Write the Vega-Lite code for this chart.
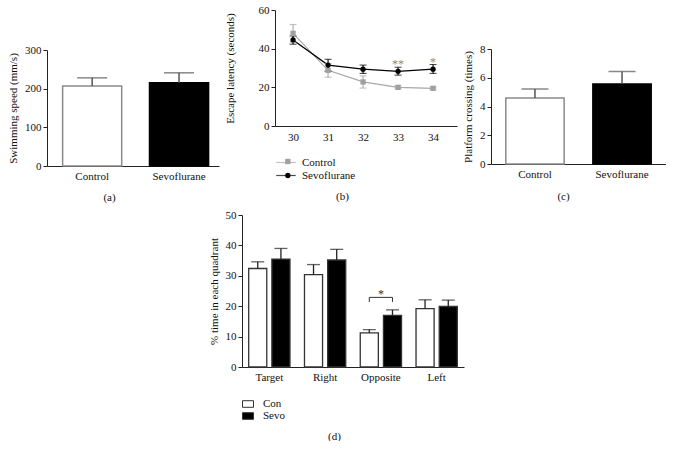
{
  "$schema": "https://vega.github.io/schema/vega-lite/v6.json",
  "padding": {"left": 7, "top": 4, "right": 0, "bottom": 0},
  "background": "white",
  "config": {
    "font": "Liberation Serif",
    "view": {"stroke": null},
    "axis": {
      "grid": false, "labelFont": "Liberation Serif", "titleFont": "Liberation Serif",
      "labelFontSize": 11, "titleFontSize": 11, "titleFontWeight": "normal",
      "domainColor": "#222", "tickColor": "#222", "labelColor": "#111", "titleColor": "#111",
      "domainWidth": 1, "tickWidth": 1, "labelPadding": 2
    },
    "legend": {"labelFont": "Liberation Serif", "labelFontSize": 11, "labelColor": "#111"},
    "text": {"font": "Liberation Serif"}
  },
  "columns": 1,
  "spacing": 7,
  "align": "none",
  "resolve": {
    "scale": {"fill": "independent", "stroke": "independent", "color": "independent", "shape": "independent", "xOffset": "independent"},
    "legend": {"fill": "independent", "stroke": "independent", "color": "independent", "shape": "independent"}
  },
  "concat": [
    {
      "columns": 3,
      "spacing": 5,
      "align": "none",
      "resolve": {
        "scale": {"fill": "independent", "stroke": "independent", "color": "independent", "shape": "independent"},
        "legend": {"fill": "independent", "stroke": "independent", "color": "independent", "shape": "independent"}
      },
      "concat": [
        {
          "columns": 1,
          "spacing": 0,
          "align": "none",
          "resolve": {"scale": {"fill": "independent", "stroke": "independent"}, "legend": {"fill": "independent", "stroke": "independent"}},
          "concat": [
            {"width": 1, "height": 34, "data": {"values": [{}]}, "mark": {"type": "point", "opacity": 0}, "encoding": {}},
            {
              "width": 172, "height": 116,
              "data": {"values": [
                {"group": "Control", "speed": 207, "upper": 228},
                {"group": "Sevoflurane", "speed": 215, "upper": 241}
              ]},
              "encoding": {
                "x": {"field": "group", "type": "nominal", "sort": null,
                  "scale": {"paddingInner": 0.32, "paddingOuter": 0.15, "align": 0.6},
                  "axis": {"title": "(a)", "labelAngle": 0, "ticks": false, "labelPadding": 4, "titleX": 62, "titleY": 25, "titleBaseline": "top"}}
              },
              "layer": [
                {"mark": {"type": "bar", "strokeWidth": 1.5},
                 "encoding": {
                   "y": {"field": "speed", "type": "quantitative", "scale": {"domain": [0, 300]},
                     "axis": {"values": [0, 100, 200, 300], "title": "Swimming speed (mm/s)", "tickSize": 4, "titlePadding": 6}},
                   "fill": {"field": "group", "type": "nominal", "scale": {"range": ["#ffffff", "#000000"]}, "legend": null},
                   "stroke": {"field": "group", "type": "nominal", "scale": {"range": ["#8a8a8a", "#000000"]}, "legend": null}
                 }},
                {"mark": {"type": "rule", "color": "#555", "strokeWidth": 1.5},
                 "encoding": {"y": {"field": "speed", "type": "quantitative",
                     "axis": {"values": [0, 100, 200, 300], "title": "Swimming speed (mm/s)", "tickSize": 4, "titlePadding": 6}},
                   "y2": {"field": "upper"}}},
                {"mark": {"type": "tick", "color": "#555", "thickness": 1.5, "size": 30},
                 "encoding": {"y": {"field": "upper", "type": "quantitative",
                     "axis": {"values": [0, 100, 200, 300], "title": "Swimming speed (mm/s)", "tickSize": 4, "titlePadding": 6}}}}
              ]
            }
          ]
        },
        {
          "width": 182, "height": 116,
          "data": {"values": [
            {"day": 30, "group": "Control", "mean": 47.9, "lo": 43.4, "hi": 52.5},
            {"day": 31, "group": "Control", "mean": 28.8, "lo": 25.2, "hi": 32.4},
            {"day": 32, "group": "Control", "mean": 22.8, "lo": 19.6, "hi": 25.9},
            {"day": 33, "group": "Control", "mean": 20.0, "lo": 19.2, "hi": 20.8},
            {"day": 34, "group": "Control", "mean": 19.5, "lo": 18.8, "hi": 20.2},
            {"day": 30, "group": "Sevoflurane", "mean": 44.5, "lo": 42.3, "hi": 46.6},
            {"day": 31, "group": "Sevoflurane", "mean": 31.5, "lo": 28.4, "hi": 34.5},
            {"day": 32, "group": "Sevoflurane", "mean": 29.4, "lo": 27.2, "hi": 31.5},
            {"day": 33, "group": "Sevoflurane", "mean": 28.3, "lo": 26.3, "hi": 30.4},
            {"day": 34, "group": "Sevoflurane", "mean": 29.4, "lo": 27.2, "hi": 31.8}
          ]},
          "transform": [{"calculate": "datum.group", "as": "series"}],
          "encoding": {
            "x": {"field": "day", "type": "ordinal", "scale": {"type": "point", "padding": 0.6, "align": 0.43},
              "axis": {"title": "(b)", "labelAngle": 0, "ticks": false, "labelPadding": 5, "titleX": 67, "titleY": 64, "titleBaseline": "top"}}
          },
          "layer": [
            {"mark": {"type": "line", "strokeWidth": 1.2},
             "encoding": {"y": {"field": "mean", "type": "quantitative", "scale": {"domain": [0, 60]},
                 "axis": {"values": [0, 20, 40, 60], "title": "Escape latency (seconds)", "tickSize": 4, "titlePadding": 23}},
               "color": {"field": "series", "type": "nominal", "scale": {"range": ["#a8a8a8", "#000000"]},
                 "legend": {"orient": "none", "legendX": 3.5, "legendY": 145, "title": null, "symbolType": "M-1.5,0H1.5", "symbolSize": 169, "symbolStrokeWidth": 1.2, "labelOffset": 8.5, "rowPadding": 0}}}},
            {"mark": {"type": "rule", "strokeWidth": 1.1},
             "encoding": {
               "y": {"field": "lo", "type": "quantitative",
                 "axis": {"values": [0, 20, 40, 60], "title": "Escape latency (seconds)", "tickSize": 4, "titlePadding": 23}},
               "y2": {"field": "hi"},
               "color": {"field": "series", "type": "nominal",
                 "legend": {"orient": "none", "legendX": 3.5, "legendY": 145, "title": null, "symbolType": "M-1.5,0H1.5", "symbolSize": 169, "symbolStrokeWidth": 1.2, "labelOffset": 8.5, "rowPadding": 0}}
             }},
            {"mark": {"type": "tick", "thickness": 1.1, "size": 7},
             "encoding": {"y": {"field": "lo", "type": "quantitative",
                 "axis": {"values": [0, 20, 40, 60], "title": "Escape latency (seconds)", "tickSize": 4, "titlePadding": 23}},
               "color": {"field": "series", "type": "nominal",
                 "legend": {"orient": "none", "legendX": 3.5, "legendY": 145, "title": null, "symbolType": "M-1.5,0H1.5", "symbolSize": 169, "symbolStrokeWidth": 1.2, "labelOffset": 8.5, "rowPadding": 0}}}},
            {"mark": {"type": "tick", "thickness": 1.1, "size": 7},
             "encoding": {"y": {"field": "hi", "type": "quantitative",
                 "axis": {"values": [0, 20, 40, 60], "title": "Escape latency (seconds)", "tickSize": 4, "titlePadding": 23}},
               "color": {"field": "series", "type": "nominal",
                 "legend": {"orient": "none", "legendX": 3.5, "legendY": 145, "title": null, "symbolType": "M-1.5,0H1.5", "symbolSize": 169, "symbolStrokeWidth": 1.2, "labelOffset": 8.5, "rowPadding": 0}}}},
            {"mark": {"type": "point", "filled": true, "opacity": 1, "size": 28, "strokeWidth": 0},
             "encoding": {"y": {"field": "mean", "type": "quantitative",
                 "axis": {"values": [0, 20, 40, 60], "title": "Escape latency (seconds)", "tickSize": 4, "titlePadding": 23}},
               "fill": {"field": "group", "type": "nominal", "scale": {"range": ["#a0a0a0", "#000000"]},
                 "legend": {"orient": "none", "legendX": 7.35, "legendY": 146, "title": null, "symbolSize": 28, "symbolStrokeWidth": 0, "labelOpacity": 0, "labelOffset": 5, "rowPadding": 2}},
               "shape": {"field": "group", "type": "nominal", "scale": {"range": ["square", "circle"]}}}},
            {"data": {"values": [
              {"day": 33, "y": 29.8, "label": "**"},
              {"day": 34, "y": 31.0, "label": "*"}
            ]},
             "mark": {"type": "text", "fontSize": 12, "baseline": "alphabetic", "color": "#888"},
             "encoding": {"y": {"field": "y", "type": "quantitative",
                 "axis": {"values": [0, 20, 40, 60], "title": "Escape latency (seconds)", "tickSize": 4, "titlePadding": 23}},
               "text": {"field": "label"}}}
          ]
        },
        {
          "columns": 1,
          "spacing": 0,
          "align": "none",
          "resolve": {"scale": {"fill": "independent", "stroke": "independent"}, "legend": {"fill": "independent", "stroke": "independent"}},
          "concat": [
            {"width": 1, "height": 33, "data": {"values": [{}]}, "mark": {"type": "point", "opacity": 0}, "encoding": {}},
            {
              "width": 175, "height": 115,
              "data": {"values": [
                {"group": "Control", "cross": 4.59, "upper": 5.22},
                {"group": "Sevoflurane", "cross": 5.57, "upper": 6.44}
              ]},
              "encoding": {
                "x": {"field": "group", "type": "nominal", "sort": null,
                  "scale": {"paddingInner": 0.33, "paddingOuter": 0.17},
                  "axis": {"title": "(c)", "labelAngle": 0, "ticks": false, "labelPadding": 4, "titleX": 72, "titleY": 26, "titleBaseline": "top"}}
              },
              "layer": [
                {"mark": {"type": "bar", "strokeWidth": 1.5},
                 "encoding": {
                   "y": {"field": "cross", "type": "quantitative", "scale": {"domain": [0, 8]},
                     "axis": {"values": [0, 2, 4, 6, 8], "title": "Platform crossing (times)", "tickSize": 4, "titlePadding": 6}},
                   "fill": {"field": "group", "type": "nominal", "scale": {"range": ["#ffffff", "#000000"]}, "legend": null},
                   "stroke": {"field": "group", "type": "nominal", "scale": {"range": ["#8a8a8a", "#000000"]}, "legend": null}
                 }},
                {"mark": {"type": "rule", "color": "#555", "strokeWidth": 1.5},
                 "encoding": {"y": {"field": "cross", "type": "quantitative",
                     "axis": {"values": [0, 2, 4, 6, 8], "title": "Platform crossing (times)", "tickSize": 4, "titlePadding": 6}},
                   "y2": {"field": "upper"}}},
                {"mark": {"type": "tick", "color": "#555", "thickness": 1.5, "size": 27},
                 "encoding": {"y": {"field": "upper", "type": "quantitative",
                     "axis": {"values": [0, 2, 4, 6, 8], "title": "Platform crossing (times)", "tickSize": 4, "titlePadding": 6}}}}
              ]
            }
          ]
        }
      ]
    },
    {
      "columns": 2,
      "spacing": 0,
      "align": "none",
      "resolve": {"scale": {"fill": "independent", "xOffset": "independent"}, "legend": {"fill": "independent"}},
      "concat": [
        {"width": 161, "height": 1, "data": {"values": [{}]}, "mark": {"type": "point", "opacity": 0}, "encoding": {}},
        {
          "width": 222, "height": 152,
          "data": {"values": [
            {"quadrant": "Target", "group": "Con", "pct": 32.4, "upper": 34.6},
            {"quadrant": "Target", "group": "Sevo", "pct": 35.5, "upper": 39.0},
            {"quadrant": "Right", "group": "Con", "pct": 30.4, "upper": 33.7},
            {"quadrant": "Right", "group": "Sevo", "pct": 35.2, "upper": 38.7},
            {"quadrant": "Opposite", "group": "Con", "pct": 11.2, "upper": 12.3},
            {"quadrant": "Opposite", "group": "Sevo", "pct": 17.0, "upper": 18.8},
            {"quadrant": "Left", "group": "Con", "pct": 19.2, "upper": 22.1},
            {"quadrant": "Left", "group": "Sevo", "pct": 19.9, "upper": 22.0}
          ]},
          "encoding": {
            "x": {"field": "quadrant", "type": "nominal", "sort": ["Target", "Right", "Opposite", "Left"],
              "scale": {"paddingInner": 0.26, "paddingOuter": 0.12},
              "axis": {"title": "(d)", "labelAngle": 0, "ticks": false, "labelPadding": 4, "titleX": 92, "titleY": 63, "titleBaseline": "top"}}
          },
          "layer": [
            {"mark": {"type": "bar", "stroke": "#333", "strokeWidth": 1.3},
             "encoding": {
               "xOffset": {"field": "group", "type": "nominal", "sort": ["Con", "Sevo"], "scale": {"paddingInner": 0.22}},
               "y": {"field": "pct", "type": "quantitative", "scale": {"domain": [0, 50]},
                 "axis": {"values": [0, 10, 20, 30, 40, 50], "title": "% time in each quadrant", "tickSize": 4, "titlePadding": 6}},
               "fill": {"field": "group", "type": "nominal", "scale": {"domain": ["Con", "Sevo"], "range": ["#ffffff", "#000000"]},
                 "legend": {"orient": "none", "legendX": 0, "legendY": 183, "title": null, "symbolType": "M-1,-0.6H1V0.6H-1Z", "symbolSize": 121, "symbolStrokeColor": "#333", "symbolStrokeWidth": 1, "labelOffset": 9, "rowPadding": 0}}
             }},
            {"mark": {"type": "rule", "color": "#222", "strokeWidth": 1.3},
             "encoding": {"xOffset": {"field": "group", "type": "nominal"},
               "y": {"field": "pct", "type": "quantitative",
                 "axis": {"values": [0, 10, 20, 30, 40, 50], "title": "% time in each quadrant", "tickSize": 4, "titlePadding": 6}},
               "y2": {"field": "upper"}}},
            {"mark": {"type": "tick", "color": "#222", "thickness": 1.3, "size": 13},
             "encoding": {"xOffset": {"field": "group", "type": "nominal"},
               "y": {"field": "upper", "type": "quantitative",
                 "axis": {"values": [0, 10, 20, 30, 40, 50], "title": "% time in each quadrant", "tickSize": 4, "titlePadding": 6}}}},
            {"data": {"values": [
              {"quadrant": "Opposite", "group": "Con", "pct": 21.4, "ord": 1},
              {"quadrant": "Opposite", "group": "Con", "pct": 22.9, "ord": 2},
              {"quadrant": "Opposite", "group": "Sevo", "pct": 22.9, "ord": 3},
              {"quadrant": "Opposite", "group": "Sevo", "pct": 21.4, "ord": 4}
            ]},
             "mark": {"type": "line", "color": "#333", "strokeWidth": 1},
             "encoding": {"xOffset": {"field": "group", "type": "nominal"},
               "y": {"field": "pct", "type": "quantitative",
                 "axis": {"values": [0, 10, 20, 30, 40, 50], "title": "% time in each quadrant", "tickSize": 4, "titlePadding": 6}},
               "order": {"field": "ord", "type": "quantitative"}}},
            {"data": {"values": [{"quadrant": "Opposite", "pct": 22.6, "label": "*"}]},
             "mark": {"type": "text", "fontSize": 12, "baseline": "alphabetic", "color": "#333"},
             "encoding": {"y": {"field": "pct", "type": "quantitative",
                 "axis": {"values": [0, 10, 20, 30, 40, 50], "title": "% time in each quadrant", "tickSize": 4, "titlePadding": 6}},
               "text": {"field": "label"}}}
          ]
        }
      ]
    }
  ]
}
